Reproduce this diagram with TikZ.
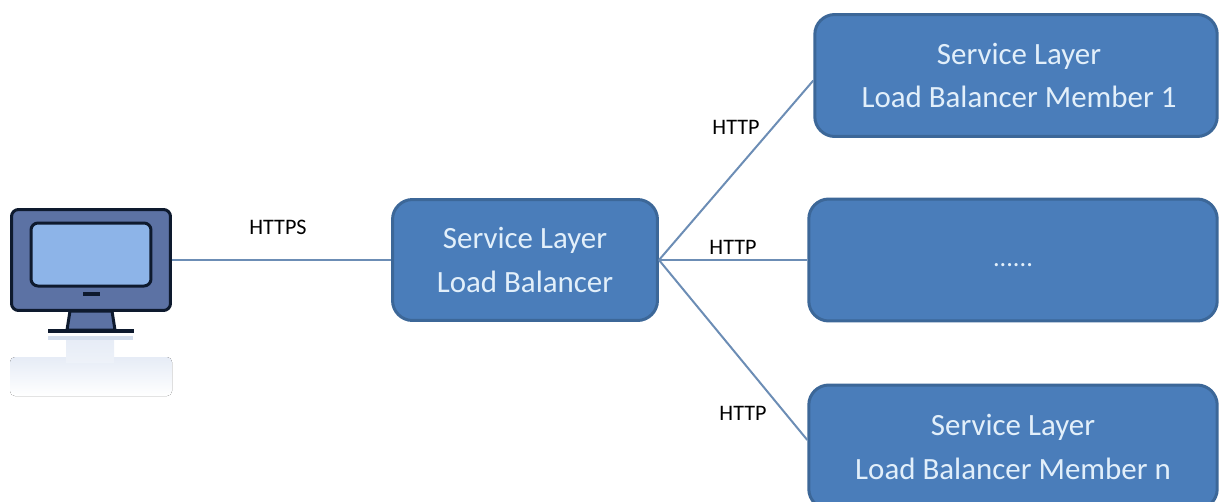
\documentclass[tikz,border=0pt]{standalone}
\usepackage{fontspec}
\setmainfont{Carlito}
\definecolor{boxfill}{HTML}{4A7DBA}
\definecolor{boxline}{HTML}{3C6798}
\definecolor{wire}{HTML}{6C8DB5}
\definecolor{boxtext}{HTML}{E2EFFA}
\definecolor{pcdark}{HTML}{0E1A2E}
\definecolor{pcbody}{HTML}{5C72A4}
\definecolor{pcscreen}{HTML}{8DB4E8}
\definecolor{pcpale}{HTML}{E6ECF6}
\definecolor{pcbase}{HTML}{D5DFEE}

\begin{document}
\begin{tikzpicture}[x=0.02cm,y=-0.02cm]
  \tikzstyle{box}=[draw=boxline,fill=boxfill,line width=0.06cm,rounded corners=0.4cm,text=boxtext,align=center,font=\fontsize{17.6}{25}\selectfont]
  \tikzstyle{proto}=[font=\fontsize{12.6}{15}\selectfont,text=black,inner sep=0pt]
  \tikzstyle{wire}=[draw=wire,line width=0.04cm]
  \tikzstyle{pcpart}=[draw=pcdark,line width=0.06cm,inner sep=0pt]
  \clip (0,0) rectangle (1219,501);

  % reflection under the screen
  \fill[top color=pcpale,bottom color=white,rounded corners=0.1cm] (10,357) rectangle (172,396);
  \fill[top color=pcpale,bottom color=pcpale!70] (66,338) rectangle (114,362);
  \fill[pcbase] (48,336) rectangle (133,340);

  \node[pcpart,fill=pcbody,rounded corners=0.14cm,minimum width=3.18cm,minimum height=2.02cm] (P_1) at (91,260) {};
  \node[pcpart,fill=pcscreen,rounded corners=0.14cm,minimum width=2.4cm,minimum height=1.26cm] (P_2) at (91,254.5) {};
  \node[fill=pcdark,inner sep=0pt,minimum width=0.34cm,minimum height=0.07cm] (P_3) at (91,294) {};
  \draw[pcpart,fill=pcbody] (70,311) -- (67,330) -- (115,330) -- (112,311) -- cycle;
  \node[fill=pcdark,inner sep=0pt,minimum width=1.72cm,minimum height=0.08cm] (P_4) at (91,331) {};

  \node[box,minimum width=5.3cm,minimum height=2.42cm] (L_1) at (525,260) {Service Layer\\Load Balancer};
  \node[box,minimum width=8.05cm,minimum height=2.44cm] (M_1) at (1016,75.5) {\hspace*{0.12cm}Service Layer\\\hspace*{0.12cm}Load Balancer Member 1};
  \node[box,minimum width=8.17cm,minimum height=2.44cm] (M_2) at (1013,260) {\fontsize{15}{25}\selectfont\vphantom{Ly}......};
  \node[box,minimum width=8.17cm,minimum height=2.48cm] (M_3) at (1013,447) {Service Layer\\Load Balancer Member n};

  \node[proto] (T_1) at (278,227) {HTTPS};
  \node[proto] (T_2) at (736,127) {HTTP};
  \node[proto] (T_3) at (733,247) {HTTP};
  \node[proto] (T_4) at (743,413) {HTTP};

  \draw[wire] (P_1.east) -- (L_1.west);
  \draw[wire] (L_1.east) -- ([yshift=-0.1cm]M_1.west);
  \draw[wire] (L_1.east) -- (M_2.west);
  \draw[wire] (L_1.east) -- ([yshift=0.14cm]M_3.west);
\end{tikzpicture}
\end{document}
